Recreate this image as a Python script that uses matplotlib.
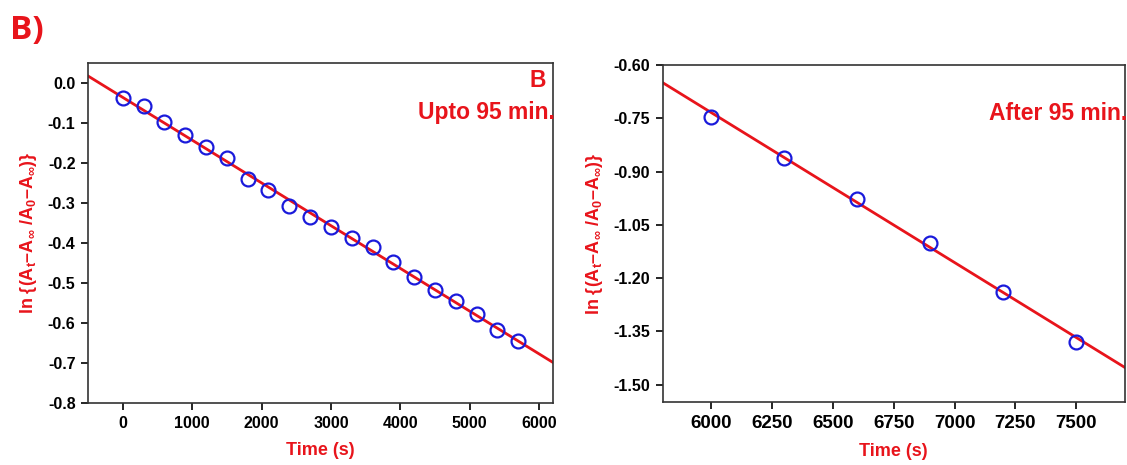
import matplotlib.pyplot as plt
import numpy as np

plt.rcParams["font.family"] = ["Liberation Sans", "DejaVu Sans"]
plt.rcParams["font.weight"] = "bold"
plt.rcParams["mathtext.fontset"] = "custom"
plt.rcParams["mathtext.rm"] = "Liberation Sans:bold"
plt.rcParams["mathtext.it"] = "Liberation Sans:bold"
plt.rcParams["mathtext.bf"] = "Liberation Sans:bold"

# data
time_early = [0, 300, 600, 900, 1200, 1500, 1800, 2100, 2400, 2700,
              3000, 3300, 3600, 3900, 4200, 4500, 4800, 5100, 5400, 5700]
ln_early = [-0.037, -0.057, -0.098, -0.131, -0.161, -0.188, -0.240, -0.268,
            -0.307, -0.334, -0.359, -0.388, -0.410, -0.448, -0.484, -0.517,
            -0.544, -0.578, -0.618, -0.644]

time_late = [6000, 6300, 6600, 6900, 7200, 7500]
ln_late = [-0.746, -0.861, -0.976, -1.102, -1.238, -1.381]

RED = "#e8141b"
BLUE = "#1a1adb"
ylab = r"ln {(A$_t$–A$_\infty$ /A$_0$–A$_\infty$)}"


def panel(ax, t, y, xlim, ylim, xticks, yticks, yfmt, notes, xsize):
    k, b = np.polyfit(t, y, 1)
    xs = np.array(xlim, dtype=float)
    ax.plot(xs, k * xs + b, color=RED, lw=2, zorder=2)
    ax.plot(t, y, "o", mfc="none", mec=BLUE, mew=1.6, ms=10, zorder=3)
    ax.set_xlim(xlim)
    ax.set_ylim(ylim)
    ax.set_xticks(xticks)
    ax.set_yticks(yticks)
    ax.set_yticklabels([yfmt.format(v) if abs(v) > 1e-9 else yfmt.format(0.0)
                        for v in yticks])
    ax.tick_params(direction="out", length=5, width=1.2, labelsize=11.5,
                   top=False, right=False, pad=4)
    ax.tick_params(axis="x", labelsize=xsize)
    for s in ax.spines.values():
        s.set_linewidth(1.2)
        s.set_color("#333333")
    ax.set_xlabel("Time (s)", color=RED, fontsize=13, fontweight="bold", labelpad=8)
    ax.set_ylabel(ylab, color=RED, fontsize=13, fontweight="bold", labelpad=6)
    for text, xx, yy in notes:
        ax.text(xx, yy, text, transform=ax.transAxes, ha="right", va="center",
                color=RED, fontsize=16.5, fontweight="bold")


fig = plt.figure(figsize=(11.27, 4.65), dpi=100)
ax1 = fig.add_axes([0.0781, 0.1333, 0.4126, 0.7312])
ax2 = fig.add_axes([0.588, 0.1348, 0.410, 0.7254])

panel(ax1, time_early, ln_early, (-500, 6200), (-0.8, 0.05),
      np.arange(0, 6001, 1000), np.round(np.arange(-0.8, 0.01, 0.1), 1),
      "{:.1f}", [("B", 0.985, 0.95), ("Upto 95 min.", 1.005, 0.855)], 11.5)
panel(ax2, time_late, ln_late, (5800, 7700), (-1.55, -0.60),
      np.arange(6000, 7501, 250), np.round(np.arange(-1.50, -0.59, 0.15), 2),
      "{:.2f}", [("After 95 min.", 1.005, 0.855)], 13.5)

fig.text(0.009, 0.935, "B)", color=RED, fontsize=24, fontweight="bold",
         family=["Open Sans", "DejaVu Sans"], va="center")

fig.savefig("out.png", dpi=100)
